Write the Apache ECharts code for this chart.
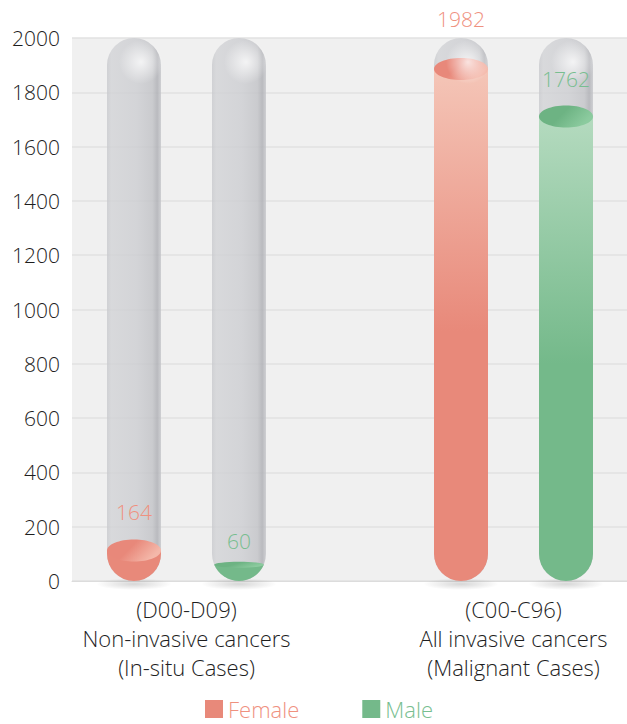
<!DOCTYPE html>
<html>
<head>
<meta charset="utf-8">
<script src="https://cdn.jsdelivr.net/npm/echarts@6/dist/echarts.min.js"></script>
<style>
html,body{margin:0;padding:0;background:#fff;}
#chart{width:627px;height:724px;}
</style>
</head>
<body>
<div id="chart"></div>
<script>
const categories = [
  '(D00-D09)\nNon-invasive cancers\n(In-situ Cases)',
  '(C00-C96)\nAll invasive cancers\n(Malignant Cases)'
];
const seriesNames = ['Female', 'Male'];
const femaleValues = [164, 1982];
const maleValues = [60, 1762];
const yMin = 0;
const yMax = 2000;
const yInterval = 200;

const FONT = '"Open Sans", Lato, sans-serif';
const R = 27;          // tube radius (px)
const OFFSET = 52.5;   // half distance between paired tubes (px)
const RY = 11;         // surface ellipse vertical radius

const palette = {
  Female: {
    main: '#e8897a', light: '#f6cdbf', label: '#ef917f',
    surf0: '#e8887a', surf1: '#f4b8aa', lightStop: 0.54
  },
  Male: {
    main: '#74b98a', light: '#c9e5d0', label: '#78be90',
    surf0: '#6db383', surf1: '#8ccb9f', lightStop: 0.6
  }
};

function makeRender(name, side) {
  const c = palette[name];
  return function (params, api) {
    const idx = api.value(0);
    const v = api.value(1);
    const pv = api.coord([idx, v]);
    const base = api.coord([idx, yMin])[1];
    const top = api.coord([idx, yMax])[1];
    const x = pv[0] + side * OFFSET;
    const vy = pv[1];
    const children = [];

    children.push({
      type: 'ellipse',
      shape: { cx: x, cy: base + 3, rx: 38, ry: 6 },
      style: {
        fill: {
          type: 'radial', x: 0.5, y: 0.5, r: 0.5,
          colorStops: [
            { offset: 0, color: 'rgba(0,0,0,0.16)' },
            { offset: 1, color: 'rgba(0,0,0,0)' }
          ]
        }
      },
      silent: true
    });

    children.push({
      type: 'rect',
      shape: { x: x - R, y: top, width: 2 * R, height: base - top, r: R },
      style: {
        fill: {
          type: 'linear', x: 0, y: 0, x2: 1, y2: 0,
          colorStops: [
            { offset: 0, color: 'rgba(200,201,205,0.8)' },
            { offset: 0.08, color: 'rgba(210,211,214,0.8)' },
            { offset: 0.55, color: 'rgba(204,205,209,0.8)' },
            { offset: 0.84, color: 'rgba(194,195,199,0.82)' },
            { offset: 0.93, color: 'rgba(176,177,182,0.85)' },
            { offset: 1, color: 'rgba(198,199,203,0.8)' }
          ]
        }
      },
      silent: true
    });

    const domeCy = base - R;
    let s;
    let path;
    let surfRx, surfRy;
    if (vy + RY <= domeCy) {
      s = Math.max(vy + RY + 3, top + R + 4);
      path = 'M' + (x - R) + ' ' + s + ' L' + (x - R) + ' ' + domeCy +
        ' A' + R + ' ' + R + ' 0 0 0 ' + (x + R) + ' ' + domeCy +
        ' L' + (x + R) + ' ' + s + ' Z';
      surfRx = R; surfRy = RY;
    } else {
      s = Math.min(vy, base - 2);
      const d = s - domeCy;
      const w = Math.sqrt(Math.max(R * R - d * d, 0));
      const large = d < 0 ? 1 : 0;
      path = 'M' + (x - w) + ' ' + s +
        ' A' + R + ' ' + R + ' 0 ' + large + ' 0 ' + (x + w) + ' ' + s + ' Z';
      surfRx = w; surfRy = RY * w / R * 0.3;
    }
    const liquidFill = {
      type: 'linear', x: 0, y: top, x2: 0, y2: base, global: true,
      colorStops: [
        { offset: 0, color: c.light },
        { offset: c.lightStop, color: c.main },
        { offset: 1, color: c.main }
      ]
    };
    children.push({
      type: 'path',
      shape: { pathData: path },
      style: { fill: liquidFill },
      silent: true
    });
    children.push({
      type: 'ellipse',
      shape: { cx: x, cy: s, rx: surfRx, ry: surfRy },
      style: {
        fill: {
          type: 'linear', x: 0, y: 0, x2: 1, y2: 0.4,
          colorStops: [
            { offset: 0, color: c.surf0 },
            { offset: 0.5, color: c.surf0 },
            { offset: 1, color: c.surf1 }
          ]
        }
      },
      silent: true
    });

    children.push({
      type: 'circle',
      shape: { cx: x + 7, cy: top + 24, r: 22 },
      style: {
        fill: {
          type: 'radial', x: 0.5, y: 0.5, r: 0.5,
          colorStops: [
            { offset: 0, color: 'rgba(255,255,255,0.75)' },
            { offset: 1, color: 'rgba(255,255,255,0)' }
          ]
        }
      },
      silent: true
    });

    children.push({
      type: 'text',
      style: {
        text: String(v),
        x: x, y: vy - 24,
        align: 'center', verticalAlign: 'middle',
        fill: c.label, fontSize: 21, fontFamily: FONT, fontWeight: 300
      },
      silent: true
    });

    return { type: 'group', children: children };
  };
}

const chart = echarts.init(document.getElementById('chart'), null, { renderer: 'svg' });
chart.setOption({
  animation: false,
  color: [palette.Female.main, palette.Male.main],
  legend: {
    left: 205, top: 697, padding: 0,
    itemWidth: 18, itemHeight: 18, itemGap: 63,
    icon: 'rect',
    textStyle: { fontSize: 22, lineHeight: 24, fontFamily: FONT, fontWeight: 300 },
    data: [
      { name: seriesNames[0], textStyle: { color: palette.Female.label } },
      { name: seriesNames[1], textStyle: { color: palette.Male.label } }
    ]
  },
  grid: [
    { left: 72, right: -1, top: 38, bottom: 143, show: true, backgroundColor: '#f0f0f0', borderWidth: 0 },
    { left: 186.5, right: 113.5, top: 38, bottom: 143 }
  ],
  xAxis: [
    {
      gridIndex: 0, type: 'value', min: 0, max: 1,
      axisLabel: { show: false }, axisTick: { show: false }, splitLine: { show: false },
      axisLine: { show: true, lineStyle: { color: '#dcdcdc', width: 1 } }
    },
    {
      gridIndex: 1, type: 'category', data: categories, boundaryGap: false,
      axisLine: { show: false }, axisTick: { show: false },
      axisLabel: {
        fontSize: 22, lineHeight: 29, color: '#1e1e1e', fontFamily: FONT, fontWeight: 300,
        margin: 13, align: 'center'
      }
    }
  ],
  yAxis: [
    {
      gridIndex: 0, type: 'value', min: yMin, max: yMax, interval: yInterval,
      axisLine: { show: false }, axisTick: { show: false },
      axisLabel: {
        fontSize: 21, color: '#1e1e1e', fontFamily: FONT, fontWeight: 300, margin: 12,
        formatter: (val) => String(val)
      },
      splitLine: { lineStyle: { color: '#e2e2e2', width: 1.5 } }
    },
    {
      gridIndex: 1, type: 'value', min: yMin, max: yMax, show: false
    }
  ],
  series: [
    {
      name: seriesNames[0], type: 'custom', xAxisIndex: 1, yAxisIndex: 1,
      clip: false, renderItem: makeRender('Female', -1),
      itemStyle: { color: palette.Female.main },
      encode: { x: 0, y: 1 },
      data: femaleValues.map((v, i) => [i, v])
    },
    {
      name: seriesNames[1], type: 'custom', xAxisIndex: 1, yAxisIndex: 1,
      clip: false, renderItem: makeRender('Male', 1),
      itemStyle: { color: palette.Male.main },
      encode: { x: 0, y: 1 },
      data: maleValues.map((v, i) => [i, v])
    }
  ]
});
</script>
</body>
</html>
